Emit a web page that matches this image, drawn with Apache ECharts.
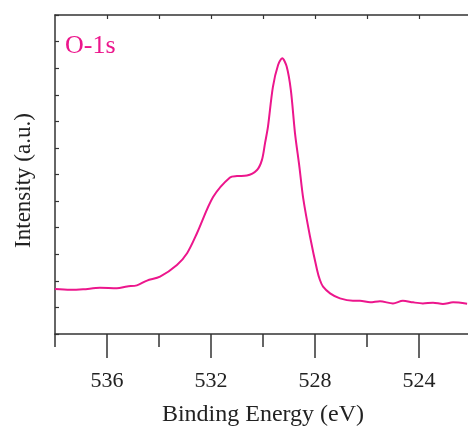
<!DOCTYPE html>
<html>
<head>
<meta charset="utf-8">
<script src="https://cdn.jsdelivr.net/npm/echarts@6/dist/echarts.min.js"></script>
<style>
  html, body { margin: 0; padding: 0; background: #fff; }
  #chart { width: 468px; height: 429px; }
</style>
</head>
<body>
<div id="chart"></div>
<script>
  // binding energy (eV) and intensity (a.u.)
  var energy = [538.00, 537.42, 536.92, 536.27, 535.62, 535.23, 534.85, 534.46, 533.96, 533.31,
    532.92, 532.54, 531.92, 531.27, 531.00, 530.62, 530.23, 530.04, 529.92, 529.81,
    529.62, 529.42, 529.26, 529.09, 528.93, 528.77, 528.60, 528.45, 528.19, 527.92,
    527.81, 527.69, 527.42, 527.04, 526.54, 526.27, 525.88, 525.50, 525.00, 524.62,
    524.23, 523.85, 523.46, 523.08, 522.69, 522.15];
  var intensity = [1.69, 1.66, 1.68, 1.74, 1.72, 1.79, 1.83, 2.01, 2.16, 2.60,
    3.04, 3.79, 5.15, 5.89, 5.94, 5.96, 6.17, 6.55, 7.19, 7.79,
    9.29, 10.12, 10.37, 10.06, 9.18, 7.56, 6.29, 5.08, 3.66, 2.41,
    2.03, 1.78, 1.53, 1.34, 1.25, 1.25, 1.19, 1.23, 1.15, 1.25,
    1.19, 1.15, 1.18, 1.13, 1.19, 1.14];
  var majorTicks = [536, 532, 528, 524];
  var minorTicks = [538, 534, 530, 526, 522];
  var topTicks = [536, 534, 532, 530, 528, 526, 524];

  var serif = 'Liberation Serif';
  var axisColor = '#333';
  var lineColor = '#ec168c';

  var chart = echarts.init(document.getElementById('chart'));
  var points = energy.map(function (e, i) { return [e, intensity[i]]; });

  var option = {
    animation: false,
    title: {
      text: 'O-1s',
      left: 60,
      top: 28,
      textStyle: { color: lineColor, fontFamily: serif, fontWeight: 'normal', fontSize: 26 }
    },
    grid: { left: 55, right: -3, top: 15, bottom: 95, outerBoundsMode: 'none' },
    xAxis: [{
      type: 'value', min: 522, max: 538, inverse: true, position: 'bottom',
      name: 'Binding Energy (eV)', nameLocation: 'middle', nameGap: 69,
      nameTextStyle: { fontFamily: serif, fontSize: 24, color: '#222' },
      axisLine: { lineStyle: { color: axisColor, width: 1.5 } },
      axisTick: { customValues: majorTicks, length: 24, lineStyle: { color: axisColor, width: 1.5 } },
      axisLabel: { customValues: majorTicks, margin: 36, fontFamily: serif, fontSize: 22, color: '#222' },
      splitLine: { show: false }
    }, {
      type: 'value', min: 522, max: 538, inverse: true, position: 'bottom',
      axisLine: { show: false },
      axisTick: { customValues: minorTicks, length: 13, lineStyle: { color: axisColor, width: 1.5 } },
      axisLabel: { show: false },
      splitLine: { show: false }
    }, {
      type: 'value', min: 522, max: 538, inverse: true, position: 'top',
      axisLine: { lineStyle: { color: axisColor, width: 1.5 } },
      axisTick: { customValues: topTicks, inside: true, length: 4, lineStyle: { color: axisColor, width: 1.2 } },
      axisLabel: { show: false },
      splitLine: { show: false }
    }],
    yAxis: {
      type: 'value', min: 0, max: 12, interval: 1,
      name: 'Intensity (a.u.)', nameLocation: 'middle', nameGap: 20,
      nameTextStyle: { fontFamily: serif, fontSize: 23, color: '#222', padding: [0, 12, 0, 0] },
      axisLine: { show: true, lineStyle: { color: axisColor, width: 1.5 } },
      axisTick: { show: true, inside: true, length: 4, lineStyle: { color: axisColor, width: 1.2 } },
      axisLabel: { show: false },
      splitLine: { show: false }
    },
    series: [{
      type: 'line',
      data: points,
      xAxisIndex: 0,
      smooth: 0.3,
      symbol: 'none',
      lineStyle: { color: lineColor, width: 2 }
    }]
  };
  chart.setOption(option);
</script>
</body>
</html>
